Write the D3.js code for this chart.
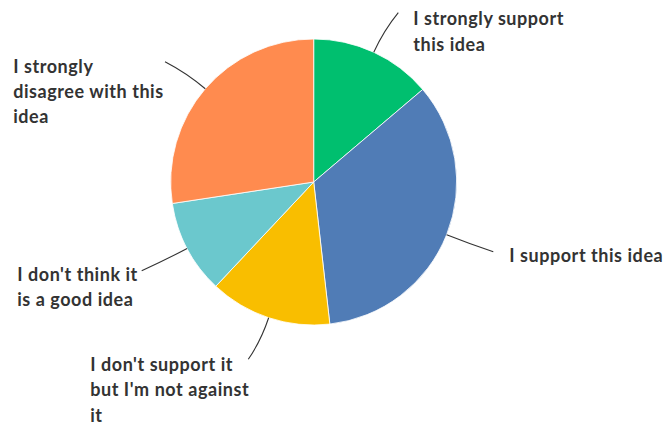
<!DOCTYPE html>
<html>
<head>
<meta charset="utf-8">
<script src="https://cdn.jsdelivr.net/npm/d3@7"></script>
<style>
  html, body { margin: 0; padding: 0; background: #fff; }
  svg { display: block; }
  text { font-family: Lato, "Open Sans", sans-serif; font-weight: 700; fill: #333; letter-spacing: 0.55px; }
</style>
</head>
<body>
<svg id="chart" width="663" height="426"></svg>
<script>
// Survey answers, clockwise from 12 o'clock
const answers = [
  "I strongly support this idea",
  "I support this idea",
  "I don't support it but I'm not against it",
  "I don't think it is a good idea",
  "I strongly disagree with this idea"
];
// Share of responses (%)
const shares = [13.8, 34.4, 13.8, 10.6, 27.4];
// Wrapped label lines
const labelLines = [
  ["I strongly support", "this idea"],
  ["I support this idea"],
  ["I don't support it", "but I'm not against", "it"],
  ["I don't think it", "is a good idea"],
  ["I strongly", "disagree with this", "idea"]
];
const colors = ["#00BF6F", "#507CB6", "#F9BE00", "#6BC8CD", "#FF8B4F"];

const svg = d3.select("#chart");
const cx = 313.7, cy = 182, radius = 143;
const g = svg.append("g").attr("transform", `translate(${cx},${cy})`);

const pie = d3.pie().sort(null).value(d => d)(shares);
const arc = d3.arc().innerRadius(0).outerRadius(radius);

g.selectAll("path.slice")
  .data(pie)
  .join("path")
  .attr("class", "slice")
  .attr("d", arc)
  .attr("fill", (d, i) => colors[i])
  .attr("stroke", "#fff")
  .attr("stroke-width", 0.8);

// Leader-line end points and label anchors (relative to pie centre)
const layout = [
  { end: [84.6, -169.3], label: [99.5, -157], lh: 26 },
  { end: [179.6, 69.7], label: [195.5, 80], lh: 26 },
  { end: [-65.4, 177.3], label: [-223.5, 188.5], lh: 25.5 },
  { end: [-172, 88.7], label: [-296.5, 98.5], lh: 25 },
  { end: [-148.7, -120.3], label: [-300.5, -109], lh: 25 }
];

const radialPoint = (a, r) => [Math.sin(a) * r, -Math.cos(a) * r];

g.selectAll("path.leader")
  .data(pie)
  .join("path")
  .attr("class", "leader")
  .attr("fill", "none")
  .attr("stroke", "#333")
  .attr("stroke-width", 1.1)
  .attr("d", (d, i) => {
    const a = (d.startAngle + d.endAngle) / 2;
    const s = radialPoint(a, radius);
    const c = radialPoint(a, radius + 24);
    const e = layout[i].end;
    const p = d3.path();
    p.moveTo(s[0], s[1]);
    p.quadraticCurveTo(c[0], c[1], e[0], e[1]);
    return p.toString();
  });

const labels = g.selectAll("text.label")
  .data(pie)
  .join("text")
  .attr("class", "label")
  .attr("font-size", 18)
  .attr("x", (d, i) => layout[i].label[0])
  .attr("y", (d, i) => layout[i].label[1]);

labels.each(function (d, i) {
  d3.select(this).selectAll("tspan")
    .data(labelLines[i])
    .join("tspan")
    .attr("x", layout[i].label[0])
    .attr("dy", (t, j) => j === 0 ? 0 : layout[i].lh)
    .text(t => t);
});
labels.append("title").text((d, i) => answers[i]);
</script>
</body>
</html>
